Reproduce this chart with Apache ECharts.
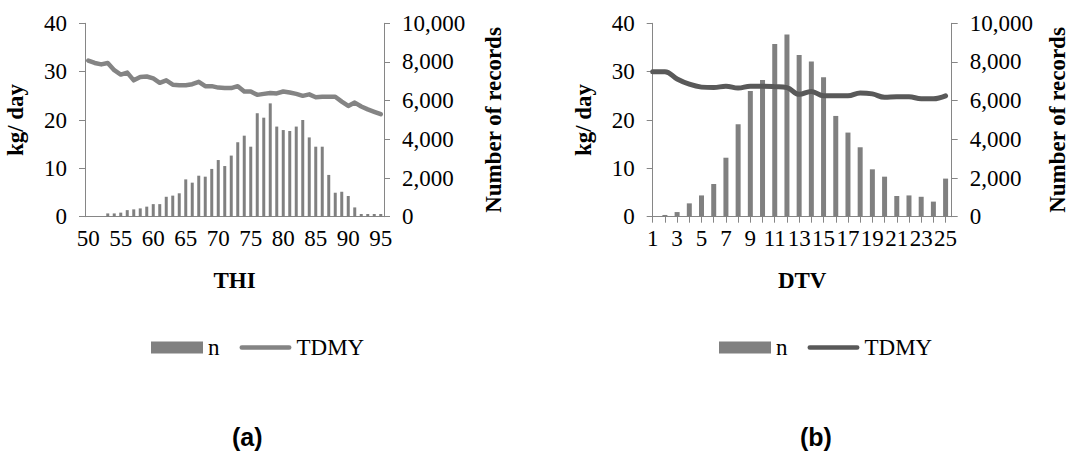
<!DOCTYPE html>
<html>
<head>
<meta charset="utf-8">
<script src="https://cdn.jsdelivr.net/npm/echarts@6/dist/echarts.min.js"></script>
<style>
  html, body { margin: 0; padding: 0; background: #ffffff; }
  #wrap { position: relative; width: 1072px; height: 465px; }
  #chartA { position: absolute; left: 0; top: 0; width: 536px; height: 465px; }
  #chartB { position: absolute; left: 536px; top: 0; width: 536px; height: 465px; }
</style>
</head>
<body>
<div id="wrap">
  <div id="chartA"></div>
  <div id="chartB"></div>
</div>
<script>
// (a) temperature-humidity index classes
const thiCats = [50,51,52,53,54,55,56,57,58,59,60,61,62,63,64,65,66,67,68,69,70,71,72,73,74,75,76,77,78,79,80,81,82,83,84,85,86,87,88,89,90,91,92,93,94,95];
const thiCount = [0,0,0,170,170,210,340,380,430,520,650,650,1030,1090,1210,1930,1760,2120,2070,2470,2930,2620,3160,3850,4190,3620,5350,5120,5860,4660,4480,4430,4660,5000,4100,3620,3620,2160,1240,1290,1070,480,140,140,140,140];
const thiTdmy = [32.3,31.8,31.5,31.8,30.3,29.4,29.8,28.2,28.9,29.0,28.6,27.7,28.2,27.3,27.2,27.2,27.4,27.9,27.0,27.0,26.7,26.6,26.6,27.0,25.9,25.9,25.2,25.4,25.6,25.5,25.9,25.7,25.4,25.0,25.3,24.7,24.8,24.8,24.8,23.8,22.9,23.6,22.8,22.2,21.7,21.2];

// (b) daily temperature variation classes
const dtvCats = [1,2,3,4,5,6,7,8,9,10,11,12,13,14,15,16,17,18,19,20,21,22,23,24,25];
const dtvCount = [0,90,240,690,1100,1690,3050,4780,6500,7070,8930,9420,8360,8020,7210,5210,4350,3590,2450,2070,1070,1100,1030,780,1970];
const dtvTdmy = [30.0,30.0,28.5,27.4,26.8,26.7,27.0,26.6,27.0,27.0,26.9,26.7,25.3,25.9,25.0,25.0,25.0,25.6,25.4,24.7,24.8,24.8,24.4,24.4,25.0];

const SERIF = '"Liberation Serif", "Times New Roman", serif';
const AXIS_GREY = '#868686';
const BAR_GREY = '#808080';
const FS = 23;
// rounded-end stroke used as the legend key of the line series
const LINE_KEY = 'path://M2.5,0 L53.5,0 A2.5,2.5 0 0 1 53.5,5 L2.5,5 A2.5,2.5 0 0 1 2.5,0 Z';

function yAxes(rightGap) {
  return [
    {
      type: 'value', min: 0, max: 40, interval: 10, position: 'left',
      name: 'kg/ day', nameLocation: 'middle', nameRotate: 90, nameGap: 58,
      nameTextStyle: { fontFamily: SERIF, fontWeight: 'bold', fontSize: FS, color: '#000' },
      axisLine: { show: true, lineStyle: { color: AXIS_GREY, width: 1 } },
      axisTick: { show: true, length: 6, lineStyle: { color: AXIS_GREY } },
      splitLine: { show: false },
      axisLabel: { margin: 18, fontFamily: SERIF, fontSize: FS, color: '#000' }
    },
    {
      type: 'value', min: 0, max: 10000, interval: 2000, position: 'right',
      name: 'Number of records', nameLocation: 'middle', nameRotate: 90, nameGap: rightGap,
      nameTextStyle: { fontFamily: SERIF, fontWeight: 'bold', fontSize: FS, color: '#000' },
      axisLine: { show: true, lineStyle: { color: AXIS_GREY, width: 1 } },
      axisTick: { show: true, length: 6, lineStyle: { color: AXIS_GREY } },
      splitLine: { show: false },
      axisLabel: {
        margin: 18, fontFamily: SERIF, fontSize: FS, color: '#000',
        formatter: v => v.toLocaleString('en-US')
      }
    }
  ];
}

function legendFor(left) {
  return {
    left: left, top: 336, orient: 'horizontal', padding: 0,
    itemWidth: 52, itemHeight: 12, itemGap: 20,
    textStyle: { fontFamily: SERIF, fontSize: FS, color: '#000' },
    data: [{ name: 'n', icon: 'rect' }, { name: 'TDMY', icon: LINE_KEY }]
  };
}

function caption(text, x) {
  return {
    type: 'text', left: x, top: 424,
    style: { text: text, font: 'bold 25px "Liberation Sans", Arial, sans-serif', fill: '#000' }
  };
}

// Chart (a): THI
const chartA = echarts.init(document.getElementById('chartA'), null, { renderer: 'svg' });
chartA.setOption({
  animation: false,
  backgroundColor: '#ffffff',
  grid: { left: 85, right: 152, top: 23.3, bottom: 248.3, containLabel: false, outerBoundsMode: 'none' },
  legend: legendFor(151),
  xAxis: {
    type: 'category', data: thiCats, boundaryGap: true,
    name: 'THI', nameLocation: 'middle', nameGap: 52,
    nameTextStyle: { fontFamily: SERIF, fontWeight: 'bold', fontSize: FS, color: '#000' },
    axisLine: { lineStyle: { color: AXIS_GREY, width: 1 } },
    axisTick: { interval: 0, length: 6, lineStyle: { color: AXIS_GREY } },
    axisLabel: { interval: 4, margin: 10, fontFamily: SERIF, fontSize: FS, color: '#000' }
  },
  yAxis: yAxes(98),
  series: [
    {
      type: 'bar', name: 'n', yAxisIndex: 1, data: thiCount, barWidth: 3,
      itemStyle: { color: BAR_GREY }
    },
    {
      type: 'line', name: 'TDMY', yAxisIndex: 0, data: thiTdmy, symbol: 'none',
      lineStyle: { color: '#848484', width: 4.5, cap: 'round', join: 'round' },
      itemStyle: { color: '#848484' }
    }
  ],
  graphic: [caption('(a)', 232)]
});

// Chart (b): DTV
const chartB = echarts.init(document.getElementById('chartB'), null, { renderer: 'svg' });
chartB.setOption({
  animation: false,
  backgroundColor: '#ffffff',
  grid: { left: 116.7, right: 120.3, top: 23.3, bottom: 248.3, containLabel: false, outerBoundsMode: 'none' },
  legend: legendFor(183),
  xAxis: {
    type: 'value', min: 1, max: 25.5, interval: 1,
    name: 'DTV', nameLocation: 'middle', nameGap: 52,
    nameTextStyle: { fontFamily: SERIF, fontWeight: 'bold', fontSize: FS, color: '#000' },
    axisLine: { lineStyle: { color: AXIS_GREY, width: 1 } },
    axisTick: { length: 6, lineStyle: { color: AXIS_GREY } },
    splitLine: { show: false },
    axisLabel: {
      margin: 10, fontFamily: SERIF, fontSize: FS, color: '#000', showMaxLabel: false,
      formatter: v => (Number.isInteger(v) && v % 2 === 1) ? String(v) : ''
    }
  },
  yAxis: yAxes(94),
  series: [
    {
      type: 'bar', name: 'n', yAxisIndex: 1, barWidth: 5,
      data: dtvCats.map((c, i) => [c, dtvCount[i]]),
      itemStyle: { color: BAR_GREY }
    },
    {
      type: 'line', name: 'TDMY', yAxisIndex: 0, symbol: 'none', smooth: 0.4,
      data: dtvCats.map((c, i) => [c, dtvTdmy[i]]),
      lineStyle: { color: '#595959', width: 5, cap: 'round', join: 'round' },
      itemStyle: { color: '#595959' }
    }
  ],
  graphic: [caption('(b)', 264)]
});
</script>
</body>
</html>
